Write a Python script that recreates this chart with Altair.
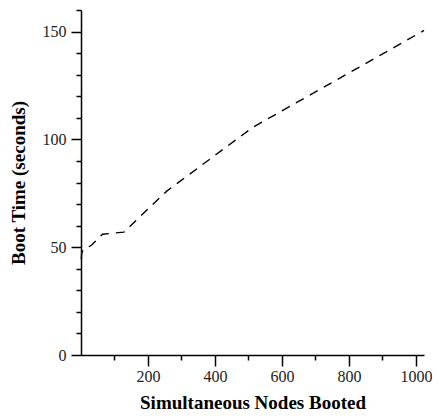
import altair as alt
import pandas as pd

nodes = [1, 2, 4, 8, 16, 32, 64, 128, 256, 512, 1024]
boot_time = [44.5, 47, 48, 49, 49.5, 51, 56, 57, 76, 105.5, 150.5]

x_ticks = [100, 200, 300, 400, 500, 600, 700, 800, 900, 1000]
y_ticks = list(range(0, 161, 10))

df = pd.DataFrame({"nodes": nodes, "boot": boot_time})

FONT = "Liberation Serif"

chart = alt.Chart(df).mark_line(
    color="black", strokeWidth=1.4, strokeDash=[9, 7]
).encode(
    x=alt.X(
        "nodes:Q",
        scale=alt.Scale(domain=[0, 1024], nice=False, zero=True),
        axis=alt.Axis(
            title="Simultaneous Nodes Booted",
            values=x_ticks,
            format="d",
            labelExpr="datum.value % 200 === 0 ? datum.label : ''",
            tickSize={"condition": {"test": "datum.value % 200 === 0", "value": 11}, "value": 5},
            grid=False,
            labelPadding=2,
            titlePadding=9,
        ),
    ),
    y=alt.Y(
        "boot:Q",
        scale=alt.Scale(domain=[0, 160], nice=False),
        axis=alt.Axis(
            title="Boot Time (seconds)",
            values=y_ticks,
            labelExpr="datum.value % 50 === 0 ? datum.label : ''",
            tickSize={"condition": {"test": "datum.value % 50 === 0", "value": 10}, "value": 5},
            grid=False,
            labelPadding=5,
            titlePadding=14,
        ),
    ),
).properties(
    width=343,
    height=345,
    autosize=alt.AutoSizeParams(type="none"),
    padding={"left": 73, "top": 2, "right": 8, "bottom": 56},
).configure_view(
    stroke=None
).configure_axis(
    domainColor="black",
    domainWidth=1.5,
    tickColor="black",
    tickWidth=1.5,
    labelFont=FONT,
    labelFontSize=16,
    labelColor="#222",
    titleFont=FONT,
    titleFontSize=19,
    titleFontWeight="bold",
    titleColor="black",
)

chart.save("out.html", embed_options={"renderer": "svg", "actions": False})
